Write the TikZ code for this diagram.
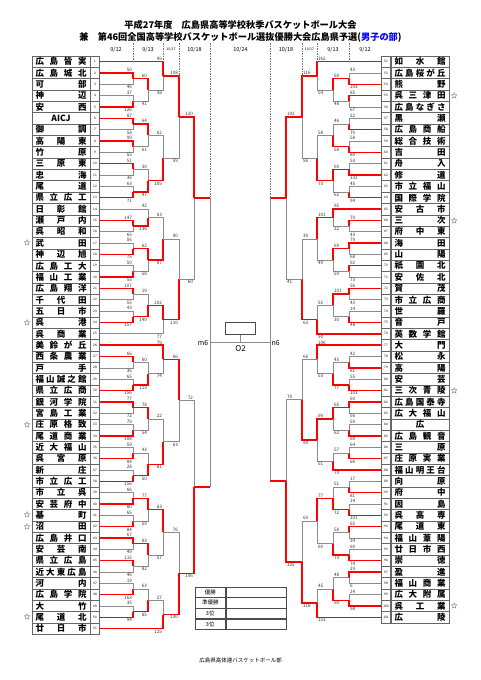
\documentclass[tikz,border=0pt]{standalone}
\usepackage{fontspec}
\setmainfont{Noto Sans CJK JP}
\usetikzlibrary{positioning}

\makeatletter
% spread the characters of a name over the whole cell
\newcommand\spreadname[1]{\def\sp@f{1}\hfil\@tfor\sp@c:=#1\do{\ifnum\sp@f=1 \def\sp@f{0}\else\hfill\fi\sp@c}\hfil}
\makeatother

\tikzset{
  lname/.style={draw=black!60, line width=.5pt, minimum width=58pt, minimum height=11.34pt,
    inner sep=0pt, font=\fontsize{8.5}{9}\selectfont\bfseries},
  lnum/.style={draw=black!60, line width=.5pt, minimum width=9pt, minimum height=11.34pt,
    inner sep=0pt, font=\fontsize{3.2}{4}\selectfont},
  kmark/.style={inner sep=0pt, font=\fontsize{7}{7}\selectfont},
  win/.style={draw=red, line width=1.35pt},
  lose/.style={draw=black!45, line width=.7pt},
  sc/.style={inner sep=.9pt, font=\fontsize{4.6}{5}\selectfont, text=black!80},
  datesep/.style={draw=black!55, dash pattern=on 1.5pt off 1pt, line width=.4pt},
  datelab/.style={inner sep=0pt, font=\fontsize{5.5}{6}\selectfont},
  headtext/.style={inner sep=0pt, font=\fontsize{9.2}{10}\selectfont\bfseries},
  finlab/.style={inner sep=1.5pt, font=\fontsize{7}{7}\selectfont},
  reslab/.style={draw=black!70, line width=.5pt, minimum width=30.5pt, minimum height=10.25pt,
    inner sep=0pt, font=\fontsize{5.5}{6}\selectfont},
  resval/.style={draw=black!70, line width=.5pt, minimum width=60.5pt, minimum height=10.25pt, inner sep=0pt},
}

\newcommand\lteam[2]{%
  \node[lname] (Ln#1) at (61,{50.33+11.34*#1}) {\makebox[51pt][s]{\spreadname{#2}}};
  \node[lnum, right=0pt of Ln#1] (L#1) {#1};}
\newcommand\rteam[2]{%
  \node[lname] (Rn#1) at (420,{50.33+11.34*(#1-51)}) {\makebox[51pt][s]{\spreadname{#2}}};
  \node[lnum, left=0pt of Rn#1] (R#1) {#1};}

% match: name, upper, lower, column, winner (1 upper, 2 lower, 3 open), scores
\newcommand\lmatch[7]{%
  \path (#2 -| #4) -- (#3 -| #4) coordinate[pos=.5] (#1);
  \ifcase#5\relax\or
    \draw[lose] (#3) -- (#3 -| #4) -- (#1);
    \draw[win] (#2) -- (#2 -| #4) -- (#1);
  \or
    \draw[lose] (#2) -- (#2 -| #4) -- (#1);
    \draw[win] (#3) -- (#3 -| #4) -- (#1);
  \or
    \draw[lose] (#2 -| #4) -- (#3 -| #4);
    \draw[win] (#2) -- (#2 -| #4) (#3) -- (#3 -| #4);
  \fi
  \node[sc, anchor=south east] (#1u) at (#2 -| #4) {#6};
  \node[sc, anchor=north east] (#1l) at (#3 -| #4) {#7};}
\newcommand\rmatch[7]{%
  \path (#2 -| #4) -- (#3 -| #4) coordinate[pos=.5] (#1);
  \ifcase#5\relax\or
    \draw[lose] (#3) -- (#3 -| #4) -- (#1);
    \draw[win] (#2) -- (#2 -| #4) -- (#1);
  \or
    \draw[lose] (#2) -- (#2 -| #4) -- (#1);
    \draw[win] (#3) -- (#3 -| #4) -- (#1);
  \or
    \draw[lose] (#2 -| #4) -- (#3 -| #4);
    \draw[win] (#2) -- (#2 -| #4) (#3) -- (#3 -| #4);
  \fi
  \node[sc, anchor=south west] (#1u) at (#2 -| #4) {#6};
  \node[sc, anchor=north west] (#1l) at (#3 -| #4) {#7};}

\begin{document}
\begin{tikzpicture}[x=1pt,y=-1pt]
\useasboundingbox (0,0) rectangle (481,680);

% title
\node[headtext] (hd1) at (240.5,25) {平成27年度\quad 広島県高等学校秋季バスケットボール大会};
\node[headtext] (hd2) at (240.5,37.5) {兼\quad 第46回全国高等学校バスケットボール選抜優勝大会広島県予選(\textcolor{blue}{男子の部})};

% round columns
\coordinate (cL1) at (133,0); \coordinate (cL2) at (148,0); \coordinate (cL3) at (163,0);
\coordinate (cL4) at (179,0); \coordinate (cL5) at (194,0); \coordinate (cL6) at (210,0);
\coordinate (cR1) at (349,0); \coordinate (cR2) at (333,0); \coordinate (cR3) at (317,0);
\coordinate (cR4) at (302,0); \coordinate (cR5) at (286,0); \coordinate (cR6) at (270,0);
\coordinate (dtop) at (0,43);

% dates
\node[datelab] (dt1) at (116,49.5) {9/12};
\node[datelab] (dt2) at (148,49.5) {9/13};
\node[datelab, font=\fontsize{3.5}{4}\selectfont] (dt3) at (171,49) {10/17};
\node[datelab] (dt4) at (194.5,49.5) {10/18};
\node[datelab] (dt5) at (240.5,49.5) {10/24};
\node[datelab] (dt6) at (286,49.5) {10/18};
\node[datelab, font=\fontsize{3.5}{4}\selectfont] (dt7) at (309.5,49) {10/17};
\node[datelab] (dt8) at (333,49.5) {9/13};
\node[datelab] (dt9) at (365,49.5) {9/12};

% left teams
\lteam{1}{広島皆実}  \lteam{2}{広島城北}  \lteam{3}{可部}      \lteam{4}{神辺}
\lteam{5}{安西}      \lteam{6}{{AICJ}}    \lteam{7}{御調}      \lteam{8}{高陽東}
\lteam{9}{竹原}      \lteam{10}{三原東}   \lteam{11}{忠海}     \lteam{12}{尾道}
\lteam{13}{県立広工} \lteam{14}{日彰館}   \lteam{15}{瀬戸内}   \lteam{16}{呉昭和}
\lteam{17}{武田}     \lteam{18}{神辺旭}   \lteam{19}{広島工大} \lteam{20}{福山工業}
\lteam{21}{広島翔洋} \lteam{22}{千代田}   \lteam{23}{五日市}   \lteam{24}{呉港}
\lteam{25}{呉商業}   \lteam{26}{美鈴が丘} \lteam{27}{西条農業} \lteam{28}{戸手}
\lteam{29}{福山誠之館} \lteam{30}{県立広商} \lteam{31}{銀河学院} \lteam{32}{宮島工業}
\lteam{33}{庄原格致} \lteam{34}{尾道商業} \lteam{35}{近大福山} \lteam{36}{呉宮原}
\lteam{37}{新庄}     \lteam{38}{市立広工} \lteam{39}{市立呉}   \lteam{40}{安芸府中}
\lteam{41}{基町}     \lteam{42}{沼田}     \lteam{43}{広島井口} \lteam{44}{安芸南}
\lteam{45}{県立広島} \lteam{46}{近大東広島} \lteam{47}{河内}   \lteam{48}{広島学院}
\lteam{49}{大竹}     \lteam{50}{尾道北}   \lteam{51}{廿日市}

% right teams
\rteam{52}{如水館}   \rteam{53}{広島桜が丘} \rteam{54}{熊野}   \rteam{55}{呉三津田}
\rteam{56}{広島なぎさ} \rteam{57}{黒瀬}   \rteam{58}{広島商船} \rteam{59}{総合技術}
\rteam{60}{吉田}     \rteam{61}{舟入}     \rteam{62}{修道}     \rteam{63}{市立福山}
\rteam{64}{国際学院} \rteam{65}{安古市}   \rteam{66}{三次}     \rteam{67}{府中東}
\rteam{68}{海田}     \rteam{69}{山陽}     \rteam{70}{祇園北}   \rteam{71}{安佐北}
\rteam{72}{賀茂}     \rteam{73}{市立広商} \rteam{74}{世羅}     \rteam{75}{音戸}
\rteam{76}{英数学館} \rteam{77}{大門}     \rteam{78}{松永}     \rteam{79}{高陽}
\rteam{80}{安芸}     \rteam{81}{三次青陵} \rteam{82}{広島国泰寺} \rteam{83}{広大福山}
\rteam{84}{広}       \rteam{85}{広島観音} \rteam{86}{三原}     \rteam{87}{庄原実業}
\rteam{88}{福山明王台} \rteam{89}{向原}   \rteam{90}{府中}     \rteam{91}{因島}
\rteam{92}{呉高専}   \rteam{93}{尾道東}   \rteam{94}{福山葦陽} \rteam{95}{廿日市西}
\rteam{96}{崇徳}     \rteam{97}{盈進}     \rteam{98}{福山商業} \rteam{99}{広大附属}
\rteam{100}{呉工業}  \rteam{101}{広陵}

% seeded marks
\foreach \k in {17,24,33,41,42,50} \node[kmark, left=1pt of Ln\k] (kL\k) {☆};
\foreach \k in {55,66,81,100} \node[kmark, right=1.5pt of Rn\k] (kR\k) {☆};

% left bracket
\lmatch{a1}{L2}{L3}{cL1}{1}{50}{46}
\lmatch{a2}{L4}{L5}{cL1}{2}{37}{126}
\lmatch{a3}{L6}{L7}{cL1}{1}{87}{58}
\lmatch{a4}{L8}{L9}{cL1}{1}{99}{55}
\lmatch{a5}{L10}{L11}{cL1}{1}{51}{36}
\lmatch{a6}{L12}{L13}{cL1}{2}{63}{71}
\lmatch{a7}{a1}{a2}{cL2}{1}{60}{41}
\lmatch{a8}{a3}{a4}{cL2}{1}{64}{61}
\lmatch{a9}{a5}{a6}{cL2}{2}{30}{47}
\lmatch{a10}{L1}{a7}{cL3}{1}{99}{38}
\lmatch{a11}{a8}{a9}{cL3}{2}{62}{105}
\lmatch{a12}{a10}{a11}{cL4}{1}{108}{59}

\lmatch{b1}{L15}{L16}{cL1}{1}{147}{65}
\lmatch{b2}{L17}{L18}{cL1}{2}{56}{75}
\lmatch{b3}{L19}{L20}{cL1}{2}{50}{55}
\lmatch{b4}{L21}{L22}{cL1}{1}{107}{55}
\lmatch{b5}{L23}{L24}{cL1}{2}{43}{157}
\lmatch{b6}{L14}{b1}{cL2}{2}{42}{136}
\lmatch{b7}{b2}{b3}{cL2}{1}{62}{58}
\lmatch{b8}{b4}{b5}{cL2}{2}{19}{149}
\lmatch{b9}{b6}{b7}{cL3}{2}{63}{67}
\lmatch{b10}{b8}{L25}{cL3}{1}{102}{77}
\lmatch{b11}{b9}{b10}{cL4}{2}{90}{110}

\lmatch{c1}{L27}{L28}{cL1}{1}{66}{36}
\lmatch{c2}{L29}{L30}{cL1}{2}{65}{156}
\lmatch{c3}{L31}{L32}{cL1}{1}{77}{72}
\lmatch{c4}{L33}{L34}{cL1}{2}{79}{108}
\lmatch{c5}{L35}{L36}{cL1}{2}{59}{84}
\lmatch{c6}{L37}{L38}{cL1}{2}{28}{156}
\lmatch{c7}{c1}{c2}{cL2}{2}{60}{113}
\lmatch{c8}{c3}{c4}{cL2}{1}{78}{54}
\lmatch{c9}{c5}{c6}{cL2}{2}{43}{50}
\lmatch{c10}{L26}{c7}{cL3}{1}{79}{74}
\lmatch{c11}{c8}{c9}{cL3}{2}{22}{81}
\lmatch{c12}{c10}{c11}{cL4}{1}{66}{63}

\lmatch{d1}{L39}{L40}{cL1}{2}{66}{80}
\lmatch{d2}{L41}{L42}{cL1}{2}{65}{84}
\lmatch{d3}{L43}{L44}{cL1}{1}{67}{49}
\lmatch{d4}{L45}{L46}{cL1}{1}{115}{46}
\lmatch{d5}{L47}{L48}{cL1}{2}{19}{163}
\lmatch{d6}{L49}{L50}{cL1}{2}{35}{94}
\lmatch{d7}{d1}{d2}{cL2}{1}{77}{59}
\lmatch{d8}{d3}{d4}{cL2}{1}{83}{82}
\lmatch{d9}{d5}{d6}{cL2}{2}{63}{85}
\lmatch{d10}{d7}{d8}{cL3}{1}{83}{57}
\lmatch{d11}{d9}{L51}{cL3}{2}{27}{125}
\lmatch{d12}{d10}{d11}{cL4}{2}{76}{130}

\lmatch{e1}{a12}{b11}{cL5}{1}{120}{60}
\lmatch{e2}{c12}{d12}{cL5}{2}{72}{106}
\lmatch{lf}{e1}{e2}{cL6}{3}{}{}

% right bracket
\rmatch{p1}{R53}{R54}{cR1}{2}{43}{103}
\rmatch{p2}{R55}{R56}{cR1}{1}{85}{67}
\rmatch{p3}{R57}{R58}{cR1}{2}{22}{79}
\rmatch{p4}{R59}{R60}{cR1}{2}{58}{80}
\rmatch{p5}{R61}{R62}{cR1}{2}{53}{131}
\rmatch{p6}{R63}{R64}{cR1}{2}{45}{94}
\rmatch{p7}{p1}{p2}{cR2}{1}{60}{48}
\rmatch{p8}{p3}{p4}{cR2}{2}{46}{58}
\rmatch{p9}{p5}{p6}{cR2}{1}{69}{62}
\rmatch{p10}{R52}{p7}{cR3}{1}{162}{54}
\rmatch{p11}{p8}{p9}{cR3}{2}{58}{73}
\rmatch{p12}{p10}{p11}{cR4}{1}{116}{56}

\rmatch{q1}{R66}{R67}{cR1}{1}{79}{43}
\rmatch{q2}{R68}{R69}{cR1}{1}{79}{68}
\rmatch{q3}{R70}{R71}{cR1}{1}{92}{73}
\rmatch{q4}{R72}{R73}{cR1}{1}{56}{43}
\rmatch{q5}{R74}{R75}{cR1}{2}{14}{48}
\rmatch{q6}{R65}{q1}{cR2}{1}{95}{22}
\rmatch{q7}{q2}{q3}{cR2}{1}{69}{59}
\rmatch{q8}{q4}{q5}{cR2}{1}{101}{30}
\rmatch{q9}{q6}{q7}{cR3}{1}{101}{49}
\rmatch{q10}{q8}{R76}{cR3}{2}{55}{90}
\rmatch{q11}{q9}{q10}{cR4}{2}{39}{63}

\rmatch{s1}{R78}{R79}{cR1}{2}{42}{81}
\rmatch{s2}{R80}{R81}{cR1}{2}{55}{101}
\rmatch{s3}{R82}{R83}{cR1}{1}{60}{56}
\rmatch{s4}{R84}{R85}{cR1}{2}{59}{60}
\rmatch{s5}{R86}{R87}{cR1}{2}{64}{66}
\rmatch{s6}{s1}{s2}{cR2}{2}{45}{77}
\rmatch{s7}{s3}{s4}{cR2}{1}{65}{62}
\rmatch{s8}{s5}{R88}{cR2}{2}{57}{73}
\rmatch{s9}{R77}{s6}{cR3}{1}{106}{53}
\rmatch{s10}{s7}{s8}{cR3}{1}{99}{51}
\rmatch{s11}{s9}{s10}{cR4}{2}{66}{99}

\rmatch{t1}{R89}{R90}{cR1}{2}{17}{81}
\rmatch{t2}{R91}{R92}{cR1}{2}{14}{101}
\rmatch{t3}{R93}{R94}{cR1}{1}{65}{34}
\rmatch{t4}{R95}{R96}{cR1}{2}{60}{74}
\rmatch{t5}{R97}{R98}{cR1}{1}{29}{6}
\rmatch{t6}{R99}{R100}{cR1}{2}{24}{98}
\rmatch{t7}{t1}{t2}{cR2}{2}{51}{72}
\rmatch{t8}{t3}{t4}{cR2}{2}{58}{73}
\rmatch{t9}{t5}{t6}{cR2}{2}{48}{90}
\rmatch{t10}{t7}{t8}{cR3}{1}{77}{60}
\rmatch{t11}{t9}{R101}{cR3}{2}{45}{153}
\rmatch{t12}{t10}{t11}{cR4}{2}{60}{118}

\rmatch{u1}{p12}{q11}{cR5}{1}{102}{41}
\rmatch{u2}{s11}{t12}{cR5}{2}{79}{125}
\rmatch{rf}{u1}{u2}{cR6}{3}{}{}

% date separators
\draw[datesep] (cL1 |- dtop) -- (cL1 |- L1);
\draw[datesep] (cL3 |- dtop) -- (cL3 |- L1);
\draw[datesep] (cL4 |- dtop) -- (cL4 |- a10);
\draw[datesep] (cL6 |- dtop) -- (cL6 |- e1);
\draw[datesep] (cR1 |- dtop) -- (cR1 |- R52);
\draw[datesep] (cR3 |- dtop) -- (cR3 |- R52);
\draw[datesep] (cR4 |- dtop) -- (cR4 |- p10);
\draw[datesep] (cR6 |- dtop) -- (cR6 |- u1);

% final
\coordinate (fin) at (lf -| 240.5,0);
\draw[lose] (lf) -- (lf -| rf);
\node[draw=black!70, line width=.5pt, minimum width=30pt, minimum height=11.7pt, inner sep=0pt,
  above=8pt of fin] (cup) {};
\draw[lose] (cup) -- (fin);
\node[finlab, anchor=east] (m6) at (lf) {m6};
\node[finlab, anchor=west] (n6) at (lf -| rf) {n6};
\node[finlab, font=\fontsize{8}{8}\selectfont, below=1pt of fin] (o2) {O2};

% results
\node[reslab] (res1) at (210.25,592.1) {優勝};
\node[reslab, below=0pt of res1] (res2) {準優勝};
\node[reslab, below=0pt of res2] (res3) {3位};
\node[reslab, below=0pt of res3] (res4) {3位};
\foreach \k in {1,...,4} \node[resval, right=0pt of res\k] (val\k) {};

\node[inner sep=0pt, font=\fontsize{5.5}{6}\selectfont] (foot) at (240.5,660) {広島県高体連バスケットボール部};
\end{tikzpicture}
\end{document}
